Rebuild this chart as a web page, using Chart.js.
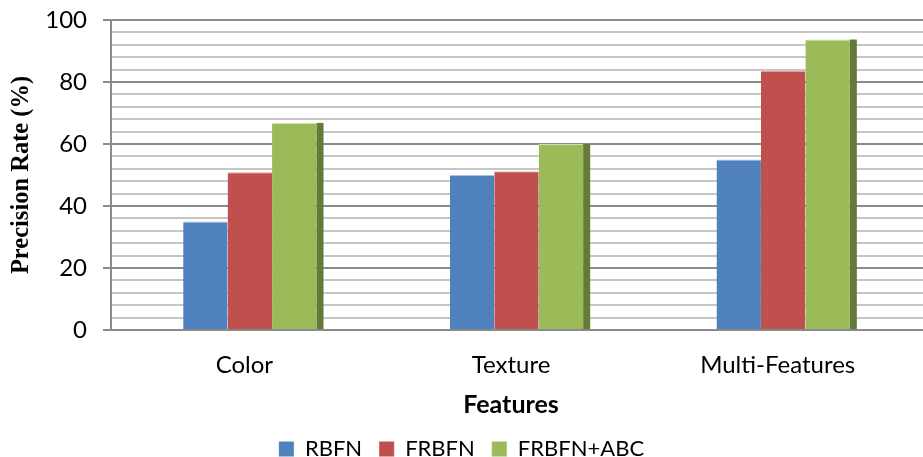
<!DOCTYPE html>
<html>
<head>
<meta charset="utf-8">
<script src="https://cdn.jsdelivr.net/npm/chart.js@4"></script>
<style>
  html, body { margin: 0; padding: 0; background: #fff; }
  #wrap { width: 923px; height: 457px; }
</style>
</head>
<body>
<div id="wrap"><canvas id="c"></canvas></div>
<script>
// Precision rate per feature set for the three classifiers
const categories = ['Color', 'Texture', 'Multi-Features'];
const rbfn      = [35, 50, 55];
const frbfn     = [50.9, 51.2, 83.6];
const frbfnAbc  = [66.8, 60, 93.7];

const seriesNames = ['RBFN', 'FRBFN', 'FRBFN+ABC'];
const yMin = 0, yMax = 100, yStep = 4, yLabelEvery = 20;

const MAJOR = '#8a8a8a';
const MINOR = '#c6c6c6';

// Extend horizontal grid lines to the right edge of the canvas
const gridExtend = {
  id: 'gridExtend',
  beforeDatasetsDraw(chart) {
    const { ctx, chartArea, scales } = chart;
    const y = scales.y;
    ctx.save();
    ctx.lineWidth = 2;
    y.ticks.forEach(t => {
      const py = Math.round(y.getPixelForValue(t.value));
      ctx.strokeStyle = t.value % yLabelEvery === 0 ? MAJOR : MINOR;
      ctx.beginPath();
      ctx.moveTo(chartArea.right, py);
      ctx.lineTo(chart.width, py);
      ctx.stroke();
    });
    ctx.restore();
  }
};

// Column depth: bars sit slightly right of the category centre,
// and the last column of each cluster shows its darker side face
const DEPTH_SHIFT = 5.5;
const DEPTH = 7;
const columnDepth = {
  id: 'columnDepth',
  beforeDatasetsDraw(chart) {
    chart.ctx.save();
    chart.ctx.translate(DEPTH_SHIFT, 0);
  },
  afterDatasetsDraw(chart) {
    const ctx = chart.ctx;
    const last = chart.data.datasets.length - 1;
    const meta = chart.getDatasetMeta(last);
    ctx.fillStyle = '#647a37';
    meta.data.forEach(bar => {
      const p = bar.getProps(['x', 'y', 'base', 'width'], true);
      ctx.fillRect(p.x + p.width / 2, p.y, DEPTH, p.base - p.y);
    });
    ctx.restore();
  }
};

const sans = 'Lato, "Open Sans", sans-serif';
const topEdge = { top: 1, left: 0, right: 0, bottom: 0 };

new Chart(document.getElementById('c'), {
  type: 'bar',
  data: {
    labels: categories,
    datasets: [
      { label: seriesNames[0], data: rbfn,     backgroundColor: '#4f81bd', borderColor: '#a9c2e3', borderWidth: topEdge, borderSkipped: false },
      { label: seriesNames[1], data: frbfn,    backgroundColor: '#c0504d', borderColor: '#e3a9a7', borderWidth: topEdge, borderSkipped: false },
      { label: seriesNames[2], data: frbfnAbc, backgroundColor: '#9bbb59', borderColor: '#cfe0ad', borderWidth: topEdge, borderSkipped: false }
    ]
  },
  options: {
    responsive: true,
    maintainAspectRatio: false,
    devicePixelRatio: 1,
    animation: false,
    layout: { padding: { top: 20, right: 0, bottom: -13, left: 0 } },
    datasets: { bar: { categoryPercentage: 0.5, barPercentage: 1 } },
    plugins: {
      tooltip: { enabled: false },
      legend: {
        position: 'bottom',
        labels: {
          font: { family: sans, size: 22 },
          color: '#000',
          boxWidth: 15,
          boxHeight: 15,
          padding: 17
        }
      }
    },
    scales: {
      x: {
        grid: { display: false, drawTicks: false },
        border: { display: false },
        afterFit(scale) { scale.height = 91; },
        ticks: { font: { family: sans, size: 24 }, color: '#000', padding: 21 },
        title: {
          display: true,
          text: 'Features',
          font: { family: sans, size: 25, weight: 'bold' },
          color: '#000',
          padding: { top: 4, bottom: 1 }
        }
      },
      y: {
        min: yMin,
        max: yMax,
        afterFit(scale) {
          scale.width = 111;
          scale.paddingTop = 0;
          scale.paddingBottom = 0;
        },
        ticks: {
          stepSize: yStep,
          autoSkip: false,
          font: { family: sans, size: 24 },
          color: '#000',
          padding: 16,
          callback: v => (v % yLabelEvery === 0 ? v : '')
        },
        grid: {
          lineWidth: 2,
          tickLength: 8,
          color: c => (c.tick && c.tick.value % yLabelEvery === 0 ? MAJOR : MINOR),
          tickColor: c => (c.tick && c.tick.value % yLabelEvery === 0 ? MAJOR : 'rgba(0,0,0,0)')
        },
        border: { color: MAJOR, width: 2 },
        title: {
          display: true,
          text: 'Precision Rate (%)',
          font: { family: '"Liberation Serif", "Times New Roman", serif', size: 24.5, weight: 'bold' },
          color: '#000',
          padding: { top: 7, bottom: 0 }
        }
      },
      // empty margin on the right of the plot
      yRight: {
        position: 'right',
        display: true,
        afterFit(scale) { scale.width = 12; },
        grid: { display: false, drawTicks: false },
        border: { display: false },
        ticks: { display: false }
      }
    }
  },
  plugins: [gridExtend, columnDepth]
});
</script>
</body>
</html>
